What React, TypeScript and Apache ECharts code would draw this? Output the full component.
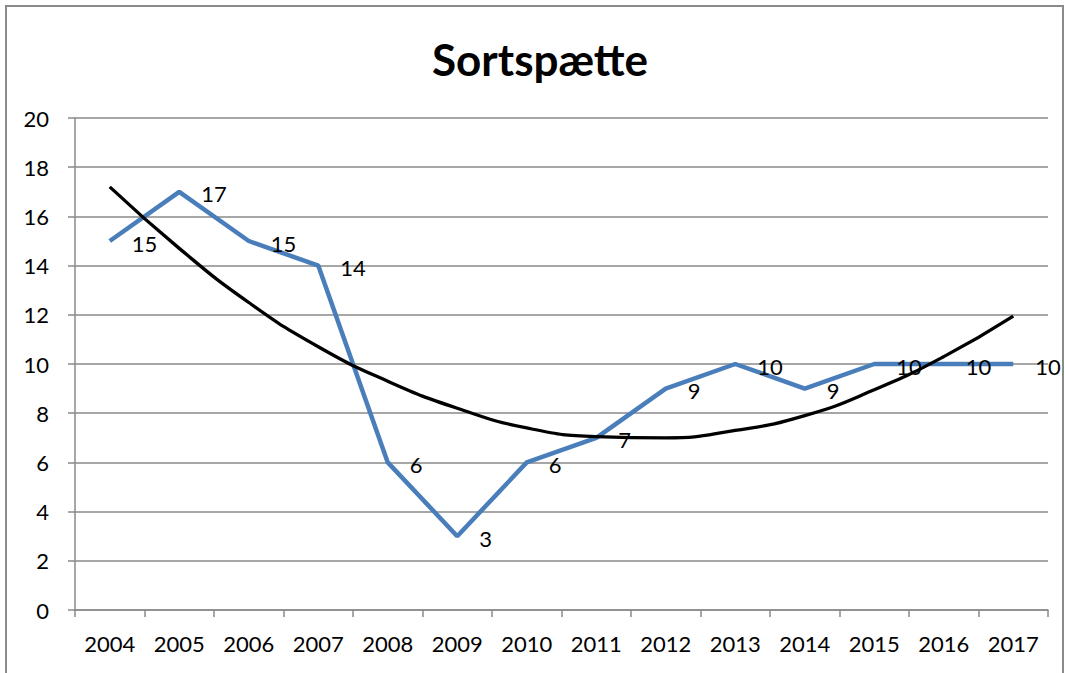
import React, { useEffect, useRef } from "react";
import * as echarts from "echarts";

const years = ["2004", "2005", "2006", "2007", "2008", "2009", "2010", "2011", "2012", "2013", "2014", "2015", "2016", "2017"];
const counts = [15, 17, 15, 14, 6, 3, 6, 7, 9, 10, 9, 10, 10, 10];
const trend = [17.2, 14.7, 12.5, 10.7, 9.3, 8.2, 7.4, 7.05, 7.0, 7.3, 7.9, 8.95, 10.3, 11.95];
const yTicks = { min: 0, max: 20, interval: 2 };
const titleText = "Sortspætte";

export default function App() {
  const ref = useRef<HTMLDivElement>(null);
  useEffect(() => {
    if (!ref.current) return;
    const chart = echarts.init(ref.current, null, { renderer: "svg" });
    const font = "Lato, 'Liberation Sans', sans-serif";
    chart.setOption({
      animation: false,
      backgroundColor: "#ffffff",
      title: {
        text: titleText,
        left: 427,
        top: 32,
        textStyle: { fontFamily: font, fontSize: 44, fontWeight: "bold", color: "#000" },
      },
      graphic: [
        {
          type: "rect",
          shape: { x: 6, y: 6, width: 1057, height: 700 },
          style: { fill: "none", stroke: "#8a8a8a", lineWidth: 2 },
          silent: true,
        },
      ],
      grid: { left: 75, right: 17, top: 118, bottom: 63 },
      xAxis: {
        type: "category",
        data: years,
        boundaryGap: true,
        axisLine: { lineStyle: { color: "#8a8a8a", width: 1.5 } },
        axisTick: { show: true, length: 7, inside: false, lineStyle: { color: "#8a8a8a", width: 1.5 } },
        axisLabel: { color: "#000", fontFamily: font, fontSize: 22, margin: 22 },
        splitLine: { show: false },
      },
      yAxis: {
        type: "value",
        min: yTicks.min,
        max: yTicks.max,
        interval: yTicks.interval,
        axisLine: { show: true, lineStyle: { color: "#8a8a8a", width: 1.5 } },
        axisTick: { show: true, length: 7, lineStyle: { color: "#8a8a8a", width: 1.5 } },
        axisLabel: { color: "#000", fontFamily: font, fontSize: 22, margin: 26 },
        splitLine: { show: true, lineStyle: { color: "#8a8a8a", width: 1.5 } },
      },
      series: [
        {
          name: "Sortspætte",
          type: "line",
          data: counts,
          symbol: "circle",
          symbolSize: 0,
          showSymbol: true,
          lineStyle: { color: "#4a7ebb", width: 4.5 },
          itemStyle: { color: "#4a7ebb" },
          label: {
            show: true,
            position: "right",
            distance: 22,
            offset: [0, 2],
            color: "#000",
            fontFamily: font,
            fontSize: 22,
          },
          z: 2,
        },
        {
          name: "Trend",
          type: "line",
          data: trend,
          smooth: true,
          symbol: "none",
          lineStyle: { color: "#000", width: 3.3 },
          itemStyle: { color: "#000" },
          z: 3,
        },
      ],
    });
    return () => chart.dispose();
  }, []);
  return (
    <div
      ref={ref}
      style={{ position: "fixed", left: 0, top: 0, width: 1065, height: 673 }}
    />
  );
}
